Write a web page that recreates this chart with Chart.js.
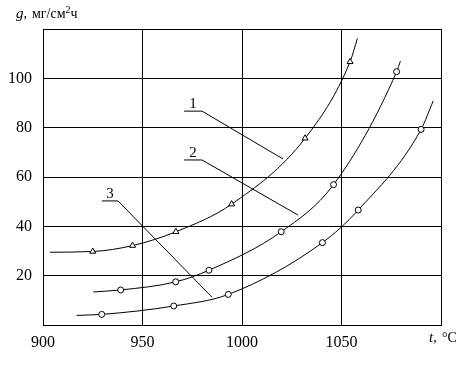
<!DOCTYPE html>
<html>
<head>
<meta charset="utf-8">
<script src="https://cdn.jsdelivr.net/npm/chart.js@4"></script>
<style>
  body { margin: 0; background: #fff; }
  #wrap { width: 468px; height: 371px; position: relative; }
</style>
</head>
<body>
<div id="wrap"><canvas id="chart"></canvas></div>
<script>
// curve 1 (triangles), 2 and 3 (circles); first and last points are the curve ends
const curve1X = [903.5, 925, 945, 966.8, 994.8, 1031.7, 1054.3, 1058];
const curve1Y = [29.5, 29.8, 32.2, 37.8, 49, 75.7, 106.7, 116.2];
const curve2X = [925.3, 939, 966.7, 983.4, 1019.7, 1046, 1077.7, 1079.6];
const curve2Y = [13.4, 14.2, 17.5, 22.2, 37.8, 56.9, 102.7, 107];
const curve3X = [916.9, 929.5, 965.7, 993.1, 1040.4, 1058.4, 1090, 1096.1];
const curve3Y = [3.9, 4.3, 7.7, 12.4, 33.4, 46.6, 79.3, 90.9];

// leader lines for the curve numbers
const leaderLabels = ["1", "2", "3"];
const leader1X = [970.9, 979.9, 1020.6];
const leader1Y = [86.7, 86.7, 67.3];
const leader2X = [970.9, 979.9, 1028.1];
const leader2Y = [66.9, 66.9, 44.6];
const leader3X = [929.6, 937.7, 984.9];
const leader3Y = [50.3, 50.3, 11.3];

const xTicks = [900, 950, 1000, 1050];
const yTicks = [20, 40, 60, 80, 100];

const FONT = "'Liberation Serif', 'Times New Roman', serif";

function pts(xs, ys) {
  return xs.map((x, i) => ({ x: x, y: ys[i] }));
}

function markerRadius(xs, r) {
  return xs.map((_, i) => (i === 0 || i === xs.length - 1 ? 0 : r));
}

function curve(xs, ys, style, r) {
  return {
    data: pts(xs, ys),
    showLine: true,
    borderColor: "#000",
    borderWidth: 1,
    cubicInterpolationMode: "monotone",
    pointStyle: style,
    pointRadius: markerRadius(xs, r),
    pointHoverRadius: markerRadius(xs, r),
    pointBackgroundColor: "#fff",
    pointBorderColor: "#000",
    pointBorderWidth: 1,
  };
}

function leader(xs, ys) {
  return {
    data: pts(xs, ys),
    showLine: true,
    borderColor: "#000",
    borderWidth: 1,
    tension: 0,
    pointRadius: 0,
  };
}

const leaders = [
  [leader1X, leader1Y],
  [leader2X, leader2Y],
  [leader3X, leader3Y],
];

const textPlugin = {
  id: "texts",
  afterDraw(chart) {
    const ctx = chart.ctx;
    const xs = chart.scales.x;
    const ys = chart.scales.y;
    const area = chart.chartArea;
    ctx.save();
    ctx.fillStyle = "#000";
    ctx.textBaseline = "alphabetic";

    // curve numbers above the leader underline
    ctx.textAlign = "center";
    ctx.font = "15px " + FONT;
    leaders.forEach(([lx, ly], i) => {
      const cx = (xs.getPixelForValue(lx[0]) + xs.getPixelForValue(lx[1])) / 2;
      ctx.fillText(leaderLabels[i], cx, ys.getPixelForValue(ly[0]) - 3);
    });

    // y axis title
    ctx.textAlign = "left";
    let x = area.left - 27;
    const yb = area.top - 11;
    ctx.font = "italic 15px " + FONT;
    ctx.fillText("g", x, yb);
    x += ctx.measureText("g").width;
    ctx.font = "14px " + FONT;
    ctx.fillText(",", x, yb);
    x = area.left - 11;
    ctx.fillText("мг/см", x, yb);
    x += ctx.measureText("мг/см").width;
    ctx.font = "10px " + FONT;
    ctx.fillText("2", x, yb - 5);
    x += ctx.measureText("2").width;
    ctx.font = "14px " + FONT;
    ctx.fillText("ч", x, yb);

    // x axis title
    x = area.right - 12;
    const xb = area.bottom + 17;
    ctx.font = "italic 15px " + FONT;
    ctx.fillText("t", x, xb);
    x += ctx.measureText("t").width;
    ctx.font = "14px " + FONT;
    ctx.fillText(",", x, xb);
    ctx.fillText("°C", area.right + 1, xb);
    ctx.restore();
  },
};

new Chart(document.getElementById("chart"), {
  type: "scatter",
  data: {
    datasets: [
      curve(curve1X, curve1Y, "triangle", 3.5),
      curve(curve2X, curve2Y, "circle", 3),
      curve(curve3X, curve3Y, "circle", 3),
      ...leaders.map(([lx, ly]) => leader(lx, ly)),
    ],
  },
  options: {
    responsive: true,
    maintainAspectRatio: false,
    animation: false,
    layout: { padding: { top: 29, right: 27, left: 0, bottom: 0 } },
    plugins: {
      legend: { display: false },
      tooltip: { enabled: false },
    },
    scales: {
      x: {
        type: "linear",
        min: 900,
        max: 1100,
        afterBuildTicks: (scale) => {
          scale.ticks = [...xTicks, 1100].map((v) => ({ value: v }));
        },
        afterFit: (scale) => {
          scale.height = 46;
        },
        ticks: {
          color: "#000",
          padding: 8,
          maxRotation: 0,
          font: { family: FONT, size: 16 },
          callback: (v) => (xTicks.includes(v) ? v : ""),
        },
        grid: { color: "#000", lineWidth: 1, drawTicks: false },
        border: { color: "#000", width: 1 },
      },
      y: {
        min: 0,
        max: 120,
        afterBuildTicks: (scale) => {
          scale.ticks = [0, ...yTicks, 120].map((v) => ({ value: v }));
        },
        afterFit: (scale) => {
          scale.width = 43;
        },
        ticks: {
          color: "#000",
          padding: 11,
          font: { family: FONT, size: 16 },
          callback: (v) => (yTicks.includes(v) ? v : ""),
        },
        grid: { color: "#000", lineWidth: 1, drawTicks: false },
        border: { color: "#000", width: 1 },
      },
    },
  },
  plugins: [textPlugin],
});
</script>
</body>
</html>
